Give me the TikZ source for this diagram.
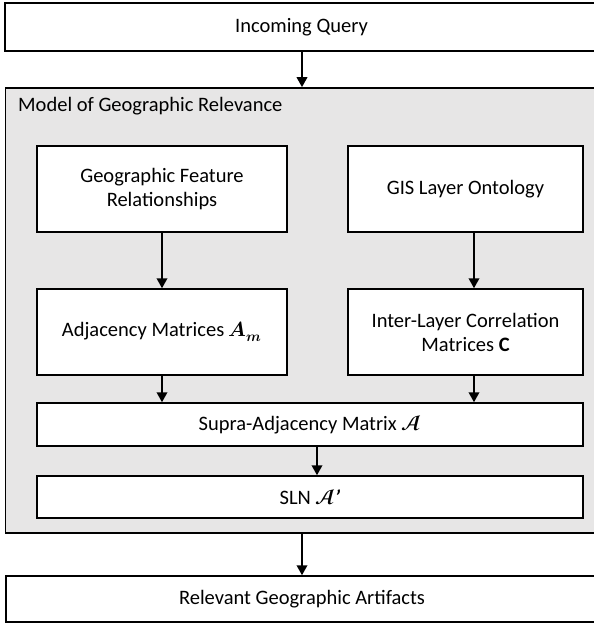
\documentclass[tikz,border=0pt]{standalone}
\usepackage{fontspec}
\usepackage{unicode-math}
\setmainfont{Carlito}
\setmathfont{Latin Modern Math}
\usetikzlibrary{arrows.meta,calc}
\definecolor{panelgray}{RGB}{231,230,230}
\tikzset{
  box/.style={draw=black, line width=1.5pt, fill=white, inner sep=0pt, align=center,
    font=\fontsize{20.5}{24}\selectfont},
  panel/.style={draw=black, line width=1.7pt, fill=panelgray, inner sep=0pt},
  arr/.style={line width=2pt, -{Triangle[width=10.5pt,length=10pt]}},
}
\begin{document}
\begin{tikzpicture}[x=1pt,y=-1pt]
\useasboundingbox (0,0) rectangle (594,625);
% outer boxes
\node[box, minimum width=593pt, minimum height=48pt] (q) at (301.5,27) {Incoming Query};
\node[panel, minimum width=592.5pt, minimum height=445pt] (m) at (301.75,310.5) {};
\node[box, minimum width=592pt, minimum height=46pt] (r) at (302,599) {Relevant Geographic Artifacts};
\node[anchor=west, inner sep=0pt, font=\fontsize{20.5}{24}\selectfont] (mt) at (18,106) {Model of Geographic Relevance};
% inner boxes
\node[box, minimum width=250pt, minimum height=86pt] (gfr) at (162,189) {Geographic Feature\\Relationships};
\node[box, minimum width=235pt, minimum height=86pt] (gis) at (465.5,189) {GIS Layer Ontology};
\node[box, minimum width=250pt, minimum height=86pt] (adj) at (162,332) {Adjacency Matrices $\symbfit{A}_{\symbfit{m}}$};
\node[box, minimum width=235pt, minimum height=86pt] (ilc) at (465.5,332) {Inter-Layer Correlation\\Matrices \textbf{C}};
\node[box, minimum width=546pt, minimum height=43pt] (sup) at (310,424.5) {Supra-Adjacency Matrix $\mathbfscr{A}$};
\node[box, minimum width=546pt, minimum height=42pt] (sln) at (310,497) {SLN $\mathbfscr{A}$\kern-0.5pt\textbf{\textit{’}}};
% arrow x positions
\coordinate (xa) at (302,0);
\coordinate (xb) at (474,0);
\coordinate (xc) at (317,0);
\coordinate (xd) at (302,0);
% connectors
\draw[arr] (q.south -| xa) -- (m.north -| xa);
\draw[arr] (gfr.south) -- (adj.north);
\draw[arr] (gis.south -| xb) -- (ilc.north -| xb);
\draw[arr] (adj.south) -- (adj.south |- sup.north);
\draw[arr] (ilc.south -| xb) -- (sup.north -| xb);
\draw[arr] (sup.south -| xc) -- (sln.north -| xc);
\draw[arr] (m.south -| xd) -- (r.north -| xd);
\end{tikzpicture}
\end{document}
